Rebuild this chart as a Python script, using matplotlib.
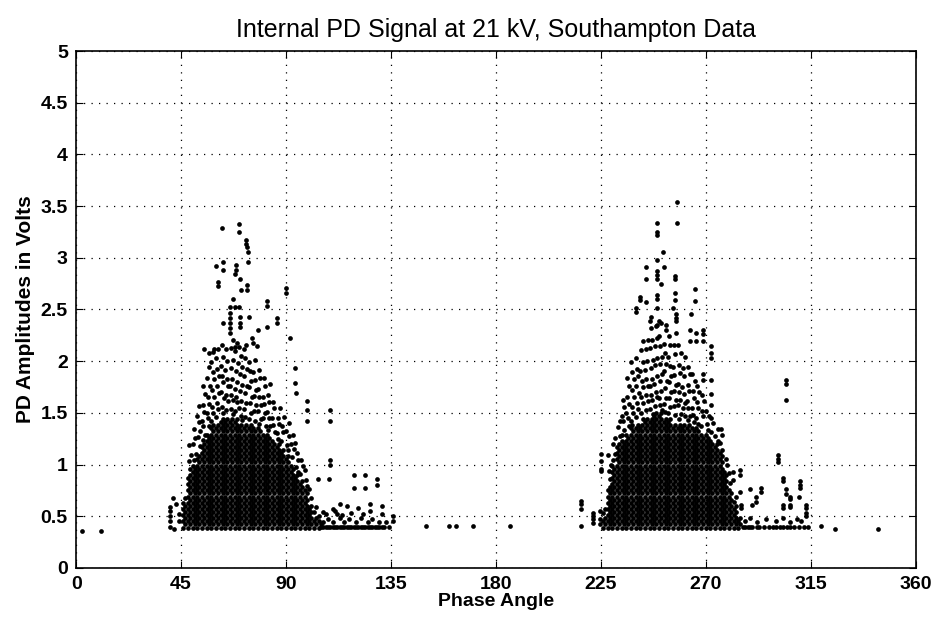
import numpy as np
from matplotlib import pyplot as plt

plt.rcParams['font.family'] = ['Liberation Sans Narrow', 'Liberation Sans', 'DejaVu Sans']

# phase columns of the two dense clusters, with the top of the solid core
# and the top of the looser cloud above it
c1_phase = [46, 48, 50, 52, 54, 56, 58, 60, 62, 64, 66, 68, 70, 72, 74, 76,
            78, 80, 82, 84, 86, 88, 90, 92, 94, 96, 98, 100, 102, 104]
c1_core = [0.6, 0.9, 1.0, 1.1, 1.2, 1.3, 1.35, 1.4, 1.45, 1.45, 1.45, 1.45, 1.4, 1.4, 1.4, 1.35,
           1.35, 1.3, 1.3, 1.25, 1.2, 1.15, 1.1, 1.0, 0.9, 0.85, 0.75, 0.6, 0.5, 0.45]
c1_cloud = [0.7, 1.2, 1.4, 1.6, 1.8, 2.0, 2.1, 2.15, 2.2, 2.2, 2.3, 2.25, 2.2, 2.2, 2.1, 2.05,
            2.0, 1.9, 1.8, 1.7, 1.6, 1.5, 1.45, 1.35, 1.25, 1.1, 1.0, 0.8, 0.6, 0.5]

c2_phase = [226, 228, 230, 232, 234, 236, 238, 240, 242, 244, 246, 248, 250, 252, 254, 256,
            258, 260, 262, 264, 266, 268, 270, 272, 274, 276, 278, 280, 282, 284]
c2_core = [0.5, 0.8, 1.0, 1.2, 1.25, 1.3, 1.35, 1.4, 1.4, 1.45, 1.45, 1.5, 1.5, 1.45, 1.45, 1.4,
           1.4, 1.4, 1.4, 1.35, 1.35, 1.3, 1.3, 1.25, 1.2, 1.15, 0.95, 0.75, 0.6, 0.5]
c2_cloud = [0.6, 1.1, 1.3, 1.5, 1.7, 1.85, 2.0, 2.1, 2.2, 2.3, 2.35, 2.4, 2.4, 2.35, 2.3, 2.3,
            2.2, 2.1, 2.0, 1.9, 1.8, 1.7, 1.6, 1.5, 1.4, 1.35, 1.1, 0.95, 0.7, 0.55]

# isolated pulses
sparse_phase = [
    # positive half, upper outliers
    62.4, 70.0, 70.0, 72.7, 72.9, 73.1, 73.9, 73.9, 62.9, 60.0, 62.9, 68.6, 68.6, 68.1,
    61.0, 61.0, 70.3, 70.6, 73.1, 73.1, 90.0, 90.0, 67.4, 81.7, 81.7, 66.0, 68.0, 70.0,
    66.0, 66.0, 66.0, 66.0, 66.0, 70.3, 70.3, 70.3, 74.3, 62.9, 86.3, 86.3, 81.7, 78.1,
    91.7, 75.5, 76.0, 73.0, 77.5, 68.0, 59.0, 55.0, 57.0,
    # positive half, right side
    94.0, 94.0, 94.5, 98.9, 98.9, 108.9, 108.9, 98.9, 109.0, 109.0, 103.6, 108.6, 119.0,
    124.0, 119.0, 124.0, 129.0, 129.0, 113.0, 116.0, 121.0, 126.0, 131.0,
    105, 106, 107, 108, 109, 110, 111, 112, 113, 114, 115, 116, 117, 118, 119, 120, 121,
    122, 123, 124, 125, 126, 127, 128, 129, 130, 131, 132, 134,
    106, 108, 110, 113, 115, 117, 120, 122, 125, 127, 130, 133,
    107, 111, 114, 118, 123, 126, 131, 104, 106, 110, 112,
    # left of positive cluster and near zero
    40.3, 40.3, 40.3, 40.3, 40.3, 41.5, 42.0, 43.0, 44.0, 44.0, 2.4, 10.6,
    # between the clusters
    136.0, 136.0, 150.0, 160.0, 163.0, 170.0, 186.0,
    # left of negative cluster
    216.7, 216.7, 216.7, 216.7, 221.7, 221.7, 221.7, 221.7, 224.6, 224.6, 224.6,
    225.3, 225.3, 225.3, 225.3,
    # negative half, upper outliers
    257.7, 257.7, 248.9, 248.9, 248.9, 251.7, 248.9, 244.3, 252.0, 248.9, 248.9, 248.9,
    244.3, 256.7, 256.7, 251.0, 265.3, 256.7, 248.9, 248.9, 241.7, 241.7, 256.7, 265.3,
    244.3, 240.3, 240.3, 248.9, 256.0, 257.1, 263.9, 257.1, 257.1, 246.6, 245.9, 250.0,
    253.0, 248.9, 263.1, 266.0, 268.9, 268.9, 268.9, 263.1, 266.0, 272.4, 272.4, 272.4,
    272.4, 268.9, 268.9, 272.4, 272.4, 304.3, 304.3, 304.3,
    # negative half, right side
    301.0, 301.0, 301.0, 281.6, 284.6, 284.6, 281.6, 303.0, 303.0, 310.3, 310.3, 310.3,
    288.9, 293.9, 293.9, 284.6, 304.6, 304.6, 306.0, 306.0, 306.0, 306.0, 310.0, 291.7,
    291.7, 290.0, 303.0, 303.0, 313.0, 313.0, 313.0, 313.0, 285.0, 285.0,
    286, 287, 288, 289, 290, 292, 293, 295, 297, 299, 300, 302, 303, 305, 306, 308, 310, 312, 314,
    287, 289, 292, 296, 300, 303, 306, 309, 311,
    319.6, 325.3, 343.9,
]
sparse_amp = [
    3.29, 3.33, 3.25, 3.17, 3.13, 3.10, 3.06, 2.96, 2.96, 2.92, 2.88, 2.93, 2.88, 2.84,
    2.77, 2.73, 2.79, 2.69, 2.74, 2.69, 2.71, 2.66, 2.60, 2.58, 2.53, 2.52, 2.52, 2.52,
    2.47, 2.42, 2.37, 2.32, 2.27, 2.43, 2.37, 2.33, 2.43, 2.37, 2.42, 2.37, 2.33, 2.30,
    2.22, 2.22, 2.18, 2.16, 2.15, 2.14, 2.12, 2.12, 2.08,
    1.93, 1.79, 1.69, 1.61, 1.53, 1.53, 1.42, 1.42, 1.04, 1.00, 0.86, 0.86, 0.90,
    0.90, 0.77, 0.77, 0.86, 0.80, 0.62, 0.60, 0.58, 0.62, 0.60,
    0.40, 0.40, 0.40, 0.40, 0.40, 0.40, 0.40, 0.40, 0.40, 0.40, 0.40, 0.40, 0.40, 0.40,
    0.40, 0.40, 0.40, 0.40, 0.40, 0.40, 0.40, 0.40, 0.40, 0.40, 0.40, 0.40, 0.40, 0.40, 0.40,
    0.44, 0.47, 0.44, 0.48, 0.44, 0.47, 0.44, 0.48, 0.44, 0.47, 0.44, 0.44,
    0.52, 0.55, 0.51, 0.53, 0.52, 0.55, 0.52, 0.50, 0.54, 0.57, 0.52,
    0.59, 0.55, 0.50, 0.45, 0.40, 0.68, 0.38, 0.62, 0.45, 0.52, 0.36, 0.36,
    0.50, 0.45, 0.41, 0.41, 0.41, 0.41, 0.41,
    0.65, 0.62, 0.57, 0.41, 0.53, 0.50, 0.47, 0.43, 0.55, 0.47, 0.42,
    1.10, 1.03, 0.96, 0.94,
    3.54, 3.34, 3.34, 3.25, 3.22, 3.06, 2.98, 2.91, 2.91, 2.87, 2.83, 2.79,
    2.79, 2.82, 2.79, 2.75, 2.70, 2.66, 2.64, 2.60, 2.62, 2.59, 2.59, 2.58,
    2.57, 2.51, 2.48, 2.51, 2.51, 2.46, 2.46, 2.42, 2.39, 2.43, 2.39, 2.39,
    2.35, 2.35, 2.30, 2.27, 2.30, 2.26, 2.19, 2.19, 2.19, 2.15, 2.08, 2.03,
    1.82, 1.88, 1.82, 1.68, 1.58, 1.82, 1.78, 1.62,
    1.09, 1.05, 1.02, 0.93, 0.95, 0.90, 0.85, 0.87, 0.84, 0.84, 0.80, 0.77,
    0.76, 0.77, 0.73, 0.73, 0.76, 0.71, 0.69, 0.67, 0.61, 0.59, 0.69, 0.69,
    0.64, 0.61, 0.61, 0.58, 0.61, 0.58, 0.53, 0.50, 0.61, 0.58,
    0.40, 0.40, 0.40, 0.40, 0.40, 0.40, 0.40, 0.40, 0.40, 0.40, 0.40, 0.40, 0.40, 0.40, 0.40, 0.40, 0.40, 0.40, 0.40,
    0.45, 0.48, 0.44, 0.47, 0.45, 0.48, 0.44, 0.47, 0.45,
    0.41, 0.38, 0.38,
]

x_ticks = [0, 45, 90, 135, 180, 225, 270, 315, 360]
y_ticks = [0, 0.5, 1, 1.5, 2, 2.5, 3, 3.5, 4, 4.5, 5]
y_labels = ['0', '0.5', '1', '1.5', '2', '2.5', '3', '3.5', '4', '4.5', '5']

# fixed shifts that break up the regular look of the columns
col_shift = [0.0, 0.9, 0.4, 1.3, 0.2, 1.1, 0.6]
row_shift = [0.0, 0.03, 0.015, 0.045, 0.008, 0.038]

fig = plt.figure(figsize=(9.4, 6.22), dpi=100)
ax = fig.add_axes([0.081, 0.087, 0.893, 0.831])

# build the point clouds from the column profiles
px, py = [], []
for phases, core, cloud in [(c1_phase, c1_core, c1_cloud), (c2_phase, c2_core, c2_cloud)]:
    for i, (p, top, ctop) in enumerate(zip(phases, core, cloud)):
        k = 0
        for a in np.arange(0.39, top + 0.001, 0.03):
            px.append(p + (0.8 if k % 2 else 0))
            py.append(a)
            k += 1
        # looser cloud, thinning out with height
        a = top + 0.03 + row_shift[i % len(row_shift)]
        j = i
        while a <= ctop:
            px.append(p + col_shift[j % len(col_shift)])
            py.append(a)
            a += 0.04 + 0.06 * (a - top) + row_shift[j % len(row_shift)]
            j += 1

ax.plot(px, py, 'ko', markersize=3.4, markeredgewidth=0)
ax.plot(sparse_phase, sparse_amp, 'ko', markersize=3.4, markeredgewidth=0)

ax.set_xlim(0, 360)
ax.set_ylim(0, 5)
ax.set_xticks(x_ticks)
ax.set_yticks(y_ticks)
ax.set_yticklabels(y_labels)
ax.grid(True, linestyle=(0, (1, 5)), color='black', linewidth=0.9)
ax.tick_params(direction='in', length=5, top=True, right=True, labelsize=14, pad=6)
for lab in ax.get_xticklabels() + ax.get_yticklabels():
    lab.set_fontweight('bold')
for s in ax.spines.values():
    s.set_linewidth(1.2)

ax.set_title('Internal PD Signal at 21 kV, Southampton Data', fontsize=18, pad=10)
ax.set_xlabel('Phase Angle', fontsize=14, fontweight='bold', labelpad=0)
ax.set_ylabel('PD Amplitudes in Volts', fontsize=15, fontweight='bold', labelpad=4)

plt.savefig('out.png', dpi=100)
